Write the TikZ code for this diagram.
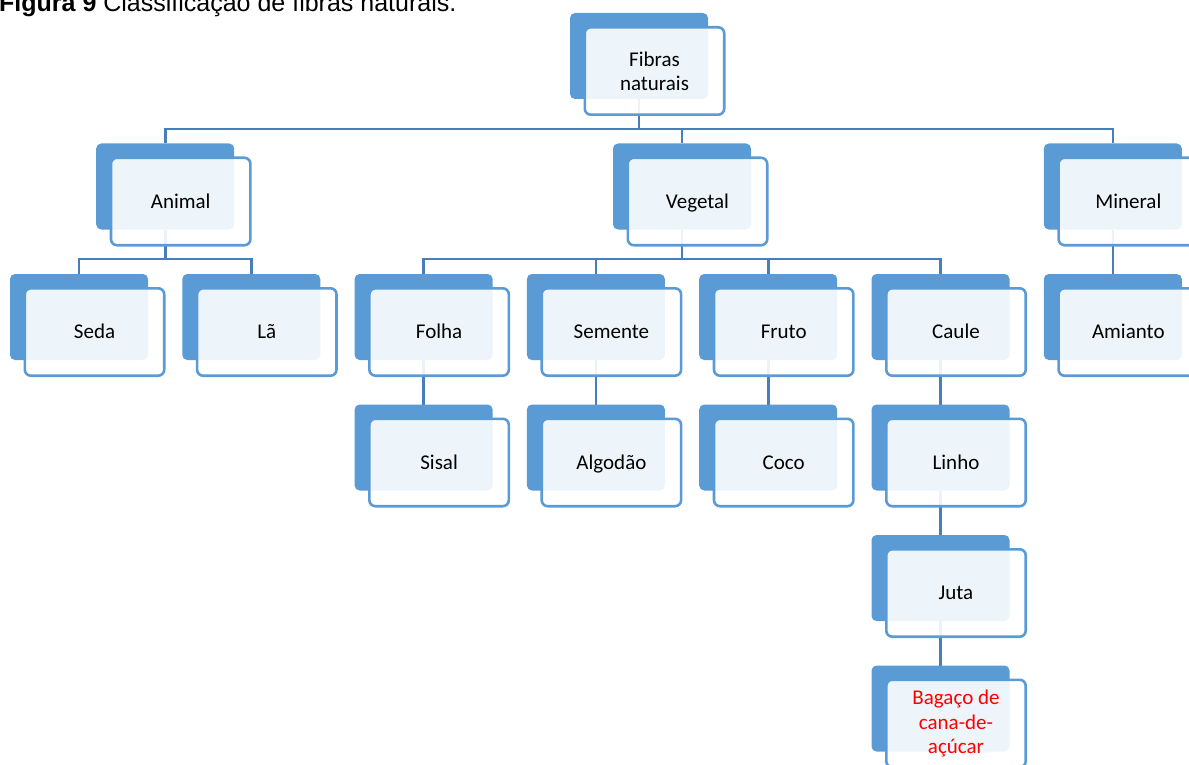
\documentclass[tikz,border=0pt]{standalone}
\usepackage{fontspec}
\setmainfont{Carlito}
\newfontfamily\arialf{Liberation Sans}
\usetikzlibrary{calc,backgrounds}
\definecolor{boxblue}{RGB}{91,155,213}
\definecolor{linkblue}{RGB}{72,126,186}
\tikzset{
  backbox/.style={rectangle, rounded corners=5pt, fill=boxblue, minimum width=138pt, minimum height=86pt, inner sep=0pt, outer sep=0pt},
  frontbox/.style={rectangle, rounded corners=6pt, draw=boxblue, line width=2.6pt, fill=white, fill opacity=0.9, text opacity=1, minimum width=139.4pt, minimum height=87.4pt, inner sep=0pt, outer sep=0pt, align=center, text=black, font=\fontsize{21}{24.3}\selectfont},
  single/.style={text height=13.6pt, text depth=0pt},
  link/.style={draw=linkblue, line width=2.6pt},
}
\newcommand\fibnode[5][single]{%
  \node[backbox] (#2) at (#3,#4) {};
  \node[frontbox,#1] (#2t) at ($(#2)+(15.5,15)$) {#5};
}
\begin{document}
\begin{tikzpicture}[x=1pt,y=-1pt]
\path[use as bounding box, clip] (0,0) rectangle (1189,765);
% title
\node[anchor=base west, inner sep=0pt, font=\arialf\fontsize{25}{30}\selectfont] (title) at (-1,12) {\textbf{Figura 9} Classificação de fibras naturais.};
% row 0
\fibnode[]{fib}{639}{56}{Fibras\\naturais}
% row 1
\fibnode{ani}{165.2}{186.5}{Animal}
\fibnode{veg}{682}{186.5}{Vegetal}
\fibnode{min}{1112.8}{186.5}{Mineral}
% row 2
\fibnode{seda}{79}{317}{Seda}
\fibnode{la}{251.3}{317}{Lã}
\fibnode{folha}{423.6}{317}{Folha}
\fibnode{semente}{595.9}{317}{Semente}
\fibnode{fruto}{768.2}{317}{Fruto}
\fibnode{caule}{940.5}{317}{Caule}
\fibnode{amianto}{1112.8}{317}{Amianto}
% row 3
\fibnode{sisal}{423.6}{447.5}{Sisal}
\fibnode{algodao}{595.9}{447.5}{Algodão}
\fibnode{coco}{768.2}{447.5}{Coco}
\fibnode{linho}{940.5}{447.5}{Linho}
% row 4
\fibnode{juta}{940.5}{578}{Juta}
% row 5
\fibnode[text=red]{bagaco}{940.5}{708.5}{Bagaço de\\cana-de-\\açúcar}
% connectors
\begin{scope}[on background layer]
  \path (ani.north) ++(0,-14.5) coordinate (bus1);
  \path (seda.north) ++(0,-15) coordinate (bus2);
  \draw[link] (fib.south) -- (fib.south |- bus1);
  \draw[link] (ani.north) -- (bus1) -| (min.north);
  \draw[link] (veg.north) -- (veg.north |- bus1);
  \draw[link] (ani.south) -- (ani.south |- bus2);
  \draw[link] (seda.north) -- (seda.north |- bus2) -| (la.north);
  \draw[link] (veg.south) -- (veg.south |- bus2);
  \draw[link] (folha.north) -- (folha.north |- bus2) -| (caule.north);
  \draw[link] (semente.north) -- (semente.north |- bus2);
  \draw[link] (fruto.north) -- (fruto.north |- bus2);
  \draw[link] (min.south) -- (amianto.north);
  \draw[link] (folha.south) -- (sisal.north);
  \draw[link] (semente.south) -- (algodao.north);
  \draw[link] (fruto.south) -- (coco.north);
  \draw[link] (caule.south) -- (linho.north);
  \draw[link] (linho.south) -- (juta.north);
  \draw[link] (juta.south) -- (bagaco.north);
\end{scope}
\end{tikzpicture}
\end{document}
